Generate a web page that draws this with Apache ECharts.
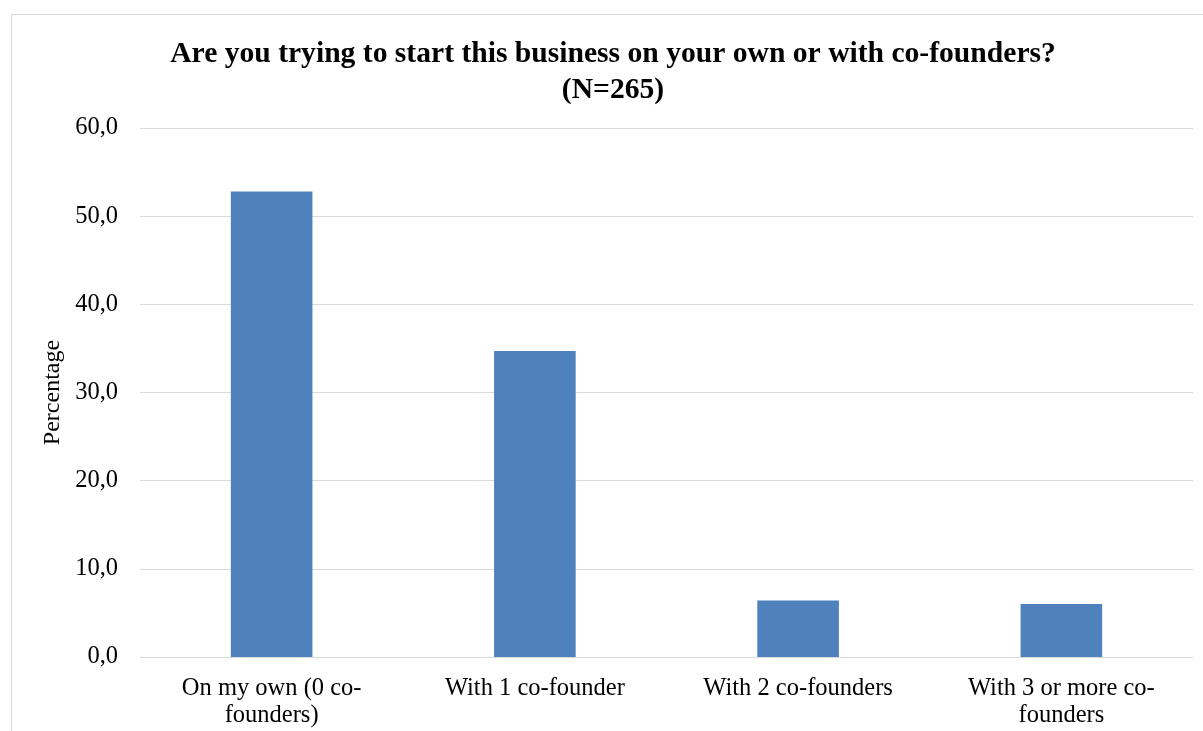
<!DOCTYPE html>
<html>
<head>
<meta charset="utf-8">
<script src="https://cdn.jsdelivr.net/npm/echarts@6/dist/echarts.min.js"></script>
<style>
  html, body { margin: 0; padding: 0; background: #fff; }
  #frame { position: absolute; left: 11px; top: 14px; width: 1300px; height: 800px;
           border-left: 1px solid #d9d9d9; border-top: 1px solid #d9d9d9; }
  #main { position: absolute; left: 0; top: 0; width: 1203px; height: 731px; }
</style>
</head>
<body>
<div id="frame"></div>
<div id="main"></div>
<script>
// categories and percentages (N=265)
var categories = ['On my own (0 co-\nfounders)', 'With 1 co-founder', 'With 2 co-founders', 'With 3 or more co-\nfounders'];
var percentages = [52.8, 34.7, 6.4, 6.0];
var yTicks = [0, 10, 20, 30, 40, 50, 60];

var serif = '"Liberation Serif", "DejaVu Serif", serif';
var myChart = echarts.init(document.getElementById('main'));

var option = {
    animation: false,
    title: {
        text: 'Are you trying to start this business on your own or with co-founders?\n(N=265)',
        left: 608,
        top: 31,
        textAlign: 'center',
        textStyle: {
            fontFamily: serif,
            fontWeight: 'bold',
            fontSize: 29.6,
            lineHeight: 36,
            color: '#000'
        }
    },
    grid: {
        left: 140,
        right: 10,
        top: 128,
        bottom: 74
    },
    xAxis: {
        type: 'category',
        data: categories,
        axisLine: { lineStyle: { color: '#d9d9d9', width: 1 } },
        axisTick: { show: false },
        axisLabel: {
            interval: 0,
            margin: 18,
            fontFamily: serif,
            fontSize: 24.5,
            lineHeight: 27,
            color: '#000'
        }
    },
    yAxis: {
        type: 'value',
        min: yTicks[0],
        max: yTicks[yTicks.length - 1],
        interval: 10,
        name: 'Percentage',
        nameLocation: 'middle',
        nameGap: 72,
        nameRotate: 90,
        nameTextStyle: { fontFamily: serif, fontSize: 24, color: '#000' },
        axisLine: { show: false },
        axisTick: { show: false },
        splitLine: { lineStyle: { color: '#d9d9d9', width: 1 } },
        axisLabel: {
            margin: 22,
            fontFamily: serif,
            fontSize: 24.5,
            color: '#000',
            formatter: function (v) { return v.toFixed(1).replace('.', ','); }
        }
    },
    series: [{
        type: 'bar',
        data: percentages,
        barWidth: '31%',
        itemStyle: { color: '#4f81bd' }
    }]
};

myChart.setOption(option);
</script>
</body>
</html>
